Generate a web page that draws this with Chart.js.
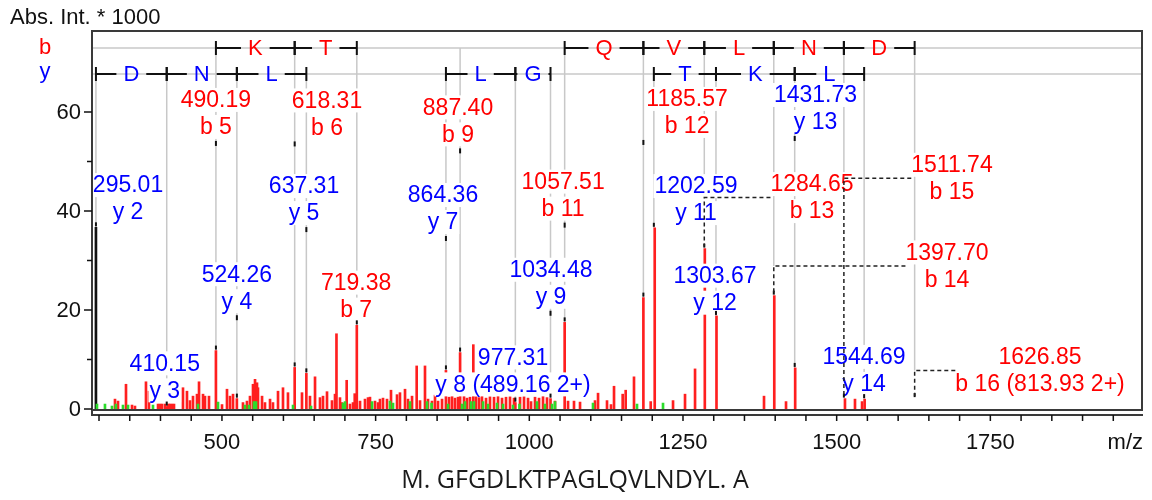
<!DOCTYPE html>
<html>
<head>
<meta charset="utf-8">
<script src="https://cdn.jsdelivr.net/npm/chart.js@4.4.1/dist/chart.umd.min.js"></script>
<style>
  html, body { margin: 0; padding: 0; background: #fff; }
  #wrap { position: relative; width: 1152px; height: 500px; }
</style>
</head>
<body>
<div id="wrap"><canvas id="ms" width="1152" height="500"></canvas></div>
<script>
// ── peptide / spectrum data ─────────────────────────────────────
const peptide  = 'GFGDLKTPAGLQVLNDYL';
const seqLabel = 'M. GFGDLKTPAGLQVLNDYL. A';
const yTitle   = 'Abs. Int. * 1000';
const xTitle   = 'm/z';

// red peaks (m/z, intensity*1000)
const redMz = [
  326.0, 330.9, 343.9, 353.7, 358.5, 376.4, 381.3, 396.0, 399.2, 402.5, 407.4, 410.15, 413.0, 415.5, 418.7, 422.0,
  436.6, 443.1, 448.0, 452.9, 459.4, 462.7, 469.2, 472.4, 478.9, 490.19, 500.1, 508.2, 513.1, 518.0, 524.26,
  534.2, 540.7, 545.6, 550.5, 553.8, 557.0, 558.6, 565.2, 570.0, 578.2, 583.0, 591.2, 599.3, 607.4, 618.31,
  630.2, 637.31, 643.2, 651.4, 659.5, 664.4, 670.9, 679.0, 683.9, 686.3, 692.0, 695.3, 702.9, 708.3, 713.2,
  716.0, 719.38, 724.6, 732.7, 737.6, 740.8, 749.0, 753.9, 757.1, 762.0, 768.5, 775.0, 784.8, 789.6, 797.8,
  802.7, 809.2, 816.8, 822.2, 830.3, 835.2, 841.7, 846.6, 851.5, 858.0, 864.36, 869.4, 874.3, 879.1, 884.0,
  887.40, 893.8, 898.6, 903.5, 908.9, 913.3, 918.2, 923.0, 929.6, 936.0, 942.6, 949.1, 955.6, 962.1, 968.6,
  975.1, 977.31, 984.9, 991.4, 997.9, 1002.8, 1009.3, 1015.8, 1022.3, 1028.8, 1034.48, 1041.8, 1057.51,
  1063.0, 1072.7, 1082.5, 1106.9, 1111.8, 1126.4, 1132.9, 1137.8, 1151.9, 1156.8, 1170.3, 1185.57, 1197.5,
  1204.0, 1233.8, 1253.3, 1269.6, 1285.5, 1304.5, 1381.8, 1398.5, 1417.6, 1432.5, 1513.5, 1529.8, 1541.3, 1545.5
];
const redInt = [
  2.0, 1.6, 5.0, 0.8, 0.6, 5.5, 3.6, 1.0, 1.0, 1.0, 1.0, 0.5, 1.0, 1.0, 1.0, 1.0,
  4.3, 3.6, 1.7, 2.6, 3.0, 5.5, 3.0, 2.6, 2.6, 11.8, 0.9, 4.0, 2.6, 3.0, 2.1,
  1.3, 1.6, 2.6, 5.0, 6.0, 5.3, 4.3, 2.6, 1.3, 2.0, 1.3, 3.6, 4.3, 3.3, 8.4,
  3.3, 7.2, 2.6, 6.5, 2.3, 2.6, 3.5, 1.7, 3.0, 15.2, 2.3, 1.3, 5.8, 1.0, 1.3,
  3.1, 16.9, 1.6, 2.0, 2.3, 2.4, 1.6, 1.3, 2.0, 2.2, 2.0, 3.8, 2.9, 3.3, 4.0,
  2.0, 2.6, 8.7, 1.7, 8.7, 2.0, 1.6, 2.8, 1.6, 2.0, 7.8, 2.4, 2.6, 2.2, 2.4,
  11.4, 2.6, 2.2, 2.4, 13.0, 2.5, 2.3, 2.6, 2.2, 2.5, 2.4, 2.6, 2.2, 2.4, 2.5,
  2.2, 1.3, 2.4, 2.5, 2.2, 1.5, 2.4, 2.2, 2.6, 2.3, 2.1, 1.6, 17.5,
  1.6, 1.6, 1.4, 1.7, 3.2, 1.7, 0.9, 4.6, 3.0, 3.8, 6.5, 22.5, 1.5,
  36.6, 1.7, 3.0, 8.1, 32.4, 18.8, 2.6, 22.9, 1.5, 8.3, 2.1, 2.0, 1.5, 2.0
];
// green peaks
const greenMz = [
  296.7, 309.7, 321.1, 327.5, 339.0, 347.2, 387.8, 461.0, 493.6, 537.5, 544.0, 552.1, 555.4, 615.6,
  644.9, 696.9, 700.2, 744.1, 773.4, 778.3, 805.9, 833.6, 841.0, 867.7, 890.5, 895.4, 905.2, 910.0,
  924.7, 932.8, 947.5, 957.2, 973.5, 984.0, 1012.5, 1025.5, 1036.9, 1041.8, 1103.6, 1175.2, 1217.5
];
const greenInt = [
  1.0, 1.0, 0.6, 1.0, 0.8, 0.8, 0.8, 1.0, 1.4, 0.8, 0.8, 1.5, 1.5, 0.8,
  0.6, 1.2, 1.5, 1.5, 1.6, 1.2, 1.5, 1.5, 1.2, 1.0, 1.0, 1.5, 1.5, 1.5,
  1.5, 1.0, 1.2, 1.0, 0.8, 1.0, 1.5, 1.0, 1.0, 1.5, 1.2, 1.0, 1.2
];
// dark peak (y2)
const darkMz  = [295.01];
const darkInt = [36.7];

// ── fragment annotations ────────────────────────────────────────
const bNum      = [5, 6, 7, 9, 11, 12, 13, 14, 15, 16];
const bMz       = [490.19, 618.31, 719.38, 887.40, 1057.51, 1185.57, 1284.65, 1397.70, 1511.74, 1626.85];
const bPeak     = [11.8, 8.4, 16.9, 11.4, 17.5, 22.5, 32.4, 22.9, 2.1, 2.2];
const bNote     = ['', '', '', '', '', '', '', '', '', '(813.93 2+)'];
const bLabelMz  = [490.19, 670.9, 718.3, 884.0, 1055.0, 1256.6, 1459.9, 1679.5, 1687.6, 1830.8];
const bLabelInt = [59.7, 59.6, 22.8, 58.2, 43.2, 59.9, 42.7, 28.9, 46.6, 7.8];

const yNum      = [2, 3, 4, 5, 7, 8, 9, 11, 12, 13, 14];
const yMz       = [295.01, 410.15, 524.26, 637.31, 864.36, 977.31, 1034.48, 1202.59, 1303.67, 1431.73, 1544.69];
const yPeak     = [36.7, 0.5, 2.1, 7.2, 7.8, 1.3, 2.1, 36.6, 18.8, 8.3, 2.0];
const yNote     = ['', '', '', '', '', '(489.16 2+)', '', '', '', '', ''];
const yLabelMz  = [347.2, 407.0, 524.26, 633.5, 859.6, 973.5, 1035.3, 1271.2, 1302.1, 1465.6, 1544.5];
const yLabelInt = [42.5, 6.5, 24.5, 42.3, 40.5, 7.7, 25.4, 42.3, 24.2, 60.7, 7.8];

const xTicks = [500, 750, 1000, 1250, 1500, 1750];
const yTicks = [0, 20, 40, 60];
const yMinor = [10, 30, 50];

// ── style ───────────────────────────────────────────────────────
const FONT = '"Liberation Sans", Arial, Helvetica, sans-serif';
const RED = '#ff0000', BLUE = '#0000ff', INK = '#111';
const LINE_GAP = 27;
const LABEL_FONT = '23px ' + FONT;

const bSeries = { tag: 'b', num: bNum, mz: bMz, peak: bPeak, note: bNote, labelMz: bLabelMz, labelInt: bLabelInt, color: RED,  row: 17 };
const ySeries = { tag: 'y', num: yNum, mz: yMz, peak: yPeak, note: yNote, labelMz: yLabelMz, labelInt: yLabelInt, color: BLUE, row: 43 };

const pts = (xs, ys) => xs.map((x, i) => ({ x, y: ys[i] }));

function layoutIons(chart, s) {
  const xs = chart.scales.x, ys = chart.scales.y, ctx = chart.ctx;
  ctx.font = LABEL_FONT;
  return s.mz.map((mz, i) => {
    const lines = [mz.toFixed(2), s.tag + ' ' + s.num[i] + (s.note[i] ? ' ' + s.note[i] : '')];
    const w = Math.max(...lines.map(t => ctx.measureText(t).width));
    const x  = xs.getPixelForValue(mz);
    const cx = xs.getPixelForValue(s.labelMz[i]);
    const cy = ys.getPixelForValue(s.labelInt[i]);
    const left = cx - w / 2, right = cx + w / 2;
    return {
      x, cx, cy, lines, left, right,
      peakY: ys.getPixelForValue(s.peak[i]),
      bottom: cy + LINE_GAP / 2 + 12,
      shifted: x < left - 10 || x > right + 10,
      color: s.color,
      rowY: chart.chartArea.top + s.row,
    };
  });
}

function drawLabel(ctx, io) {
  ctx.font = LABEL_FONT;
  ctx.textAlign = 'center'; ctx.textBaseline = 'middle';
  const ys = [io.cy - LINE_GAP / 2, io.cy + LINE_GAP / 2];
  io.lines.forEach((t, k) => {
    const w = ctx.measureText(t).width;
    ctx.fillStyle = '#fff';
    ctx.fillRect(io.cx - w / 2 - 1, ys[k] - 12, w + 2, 24);
  });
  ctx.fillStyle = io.color;
  io.lines.forEach((t, k) => ctx.fillText(t, io.cx, ys[k] + 1));
}

function drawLadder(chart, s) {
  const ctx = chart.ctx, xs = chart.scales.x, y = chart.chartArea.top + s.row;
  ctx.font = '22px ' + FONT;
  ctx.textAlign = 'center'; ctx.textBaseline = 'middle';
  for (let i = 0; i + 1 < s.num.length; i++) {
    if (s.num[i + 1] !== s.num[i] + 1) continue;
    const n = s.num[i];
    const aa = s.tag === 'b' ? peptide[n] : peptide[peptide.length - n - 1];
    const x1 = xs.getPixelForValue(s.mz[i]), x2 = xs.getPixelForValue(s.mz[i + 1]);
    const mid = (x1 + x2) / 2, half = ctx.measureText(aa).width / 2 + 7;
    ctx.strokeStyle = INK; ctx.lineWidth = 2;
    ctx.beginPath();
    ctx.moveTo(x1, y - 7); ctx.lineTo(x1, y + 7);
    ctx.moveTo(x2, y - 7); ctx.lineTo(x2, y + 7);
    ctx.moveTo(x1, y); ctx.lineTo(Math.max(x1, mid - half), y);
    ctx.moveTo(Math.min(x2, mid + half), y); ctx.lineTo(x2, y);
    ctx.stroke();
    ctx.fillStyle = s.color;
    ctx.fillText(aa, mid, y + 1);
  }
}

const ionPlugin = {
  id: 'ions',
  beforeDatasetsDraw(chart) {
    const { ctx, chartArea: ca } = chart;
    ctx.save();
    ctx.strokeStyle = '#c8c8c8'; ctx.lineWidth = 1.5;
    [bSeries, ySeries].forEach(s => {
      const ry = ca.top + s.row;
      ctx.beginPath(); ctx.moveTo(ca.left, ry); ctx.lineTo(ca.right, ry); ctx.stroke();
      layoutIons(chart, s).forEach(io => {
        ctx.beginPath();
        ctx.moveTo(io.x, io.rowY);
        ctx.lineTo(io.x, io.shifted ? io.cy : io.peakY);
        ctx.stroke();
      });
    });
    ctx.restore();
  },
  afterDatasetsDraw(chart) {
    const { ctx, chartArea: ca } = chart;
    ctx.save();
    ctx.beginPath(); ctx.rect(ca.left, ca.top, ca.right - ca.left, ca.bottom - ca.top - 5); ctx.clip();
    const all = [...layoutIons(chart, bSeries), ...layoutIons(chart, ySeries)];
    all.forEach(io => drawLabel(ctx, io));
    // small black marks at connector ends
    ctx.fillStyle = INK;
    all.forEach(io => {
      ctx.fillRect(io.x - 1, io.peakY - 5, 2, 4);
      if (!io.shifted && io.bottom + 8 < io.peakY) ctx.fillRect(io.x - 1, io.bottom + 2, 2, 5);
    });
    // dashed connectors for displaced labels
    ctx.strokeStyle = '#222'; ctx.lineWidth = 1.5; ctx.setLineDash([4, 3]);
    all.filter(io => io.shifted).forEach(io => {
      const edge = io.x < io.left ? io.left : io.right;
      ctx.beginPath();
      ctx.moveTo(edge, io.cy); ctx.lineTo(io.x, io.cy); ctx.lineTo(io.x, io.peakY - 2);
      ctx.stroke();
    });
    ctx.setLineDash([]);
    drawLadder(chart, bSeries);
    drawLadder(chart, ySeries);
    ctx.restore();
  },
  afterDraw(chart) {
    const { ctx, chartArea: ca, scales: { x: xs, y: ys } } = chart;
    ctx.save();
    // frame + axes
    ctx.strokeStyle = '#3a3a3a'; ctx.lineWidth = 2;
    ctx.strokeRect(ca.left, ca.top, ca.right - ca.left, ca.bottom - 5 - ca.top);
    ctx.beginPath();
    ctx.moveTo(ca.left, ca.bottom - 5); ctx.lineTo(ca.left, ca.bottom);
    ctx.lineTo(ca.right + 1, ca.bottom);
    ctx.stroke();
    ctx.lineWidth = 1.5; ctx.strokeStyle = INK;
    ctx.beginPath();
    for (let v = 300; v <= 1950; v += 50) {
      const px = xs.getPixelForValue(v);
      ctx.moveTo(px, ca.bottom); ctx.lineTo(px, ca.bottom + 6);
    }
    yTicks.forEach(v => { const py = ys.getPixelForValue(v); ctx.moveTo(ca.left, py); ctx.lineTo(ca.left - 8, py); });
    yMinor.forEach(v => { const py = ys.getPixelForValue(v); ctx.moveTo(ca.left, py); ctx.lineTo(ca.left - 5, py); });
    ctx.stroke();
    // tick labels
    ctx.fillStyle = INK; ctx.font = '22px ' + FONT; ctx.textBaseline = 'middle';
    ctx.textAlign = 'center';
    xTicks.forEach(v => ctx.fillText(String(v), xs.getPixelForValue(v), ca.bottom + 28));
    ctx.textAlign = 'right';
    yTicks.forEach(v => ctx.fillText(String(v), ca.left - 11, ys.getPixelForValue(v) + 1));
    ctx.fillText(xTitle, ca.right + 1, ca.bottom + 28);
    ctx.textAlign = 'left';
    ctx.fillText(yTitle, 10, 18);
    // row labels
    ctx.textAlign = 'center';
    ctx.fillStyle = RED;  ctx.fillText(bSeries.tag, 45, ca.top + bSeries.row);
    ctx.fillStyle = BLUE; ctx.fillText(ySeries.tag, 45, ca.top + ySeries.row - 2);
    // sequence
    ctx.fillStyle = '#1a1a1a'; ctx.font = '25px "Open Sans", "Noto Sans", sans-serif';
    ctx.fillText(seqLabel, 575, 481);
    ctx.restore();
  }
};

new Chart(document.getElementById('ms'), {
  type: 'bar',
  data: {
    datasets: [
      { label: 'green', data: pts(greenMz, greenInt), backgroundColor: '#2bdc2b', barThickness: 2, grouped: false },
      { label: 'dark',  data: pts(darkMz, darkInt),   backgroundColor: '#111',    barThickness: 2, grouped: false },
      { label: 'peaks', data: pts(redMz, redInt),     backgroundColor: '#ff1f1f', barThickness: 2, grouped: false },
    ]
  },
  options: {
    responsive: false, animation: false, devicePixelRatio: 1,
    layout: { padding: { left: 92, right: 10, top: 31, bottom: 85 } },
    plugins: { legend: { display: false }, tooltip: { enabled: false } },
    scales: {
      x: { type: 'linear', min: 288.6, max: 1996.7, offset: false, display: false },
      y: { min: -1.21, max: 76.35, display: false },
    },
  },
  plugins: [ionPlugin],
});
</script>
</body>
</html>
